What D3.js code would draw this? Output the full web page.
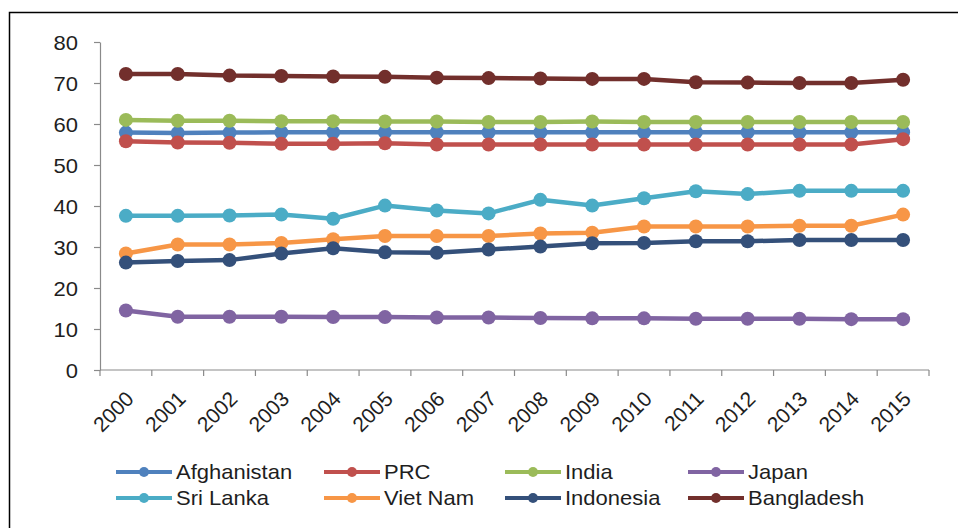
<!DOCTYPE html>
<html>
<head>
<meta charset="utf-8">
<script src="https://cdn.jsdelivr.net/npm/d3@7/dist/d3.min.js"></script>
<style>
  html, body { margin: 0; padding: 0; background: #fff; }
  svg { display: block; }
  text { font-family: "Liberation Sans", Arial, sans-serif; fill: #1e1e1e; }
</style>
</head>
<body>
<div id="chart"></div>
<script>
const years = ["2000","2001","2002","2003","2004","2005","2006","2007","2008","2009","2010","2011","2012","2013","2014","2015"];
const yTicks = [0, 10, 20, 30, 40, 50, 60, 70, 80];

const seriesNames = ["Afghanistan", "PRC", "India", "Japan", "Sri Lanka", "Viet Nam", "Indonesia", "Bangladesh"];
const seriesColors = ["#4F81BD", "#C0504D", "#9BBB59", "#8064A2", "#4BACC6", "#F79646", "#34507A", "#722F2C"];

const afghanistan = [57.9, 57.8, 57.9, 58.0, 58.0, 58.0, 58.0, 58.0, 58.0, 58.0, 58.0, 58.0, 58.0, 58.0, 58.0, 58.0];
const prc         = [55.8, 55.5, 55.4, 55.2, 55.2, 55.3, 55.0, 55.0, 55.0, 55.0, 55.0, 55.0, 55.0, 55.0, 55.0, 56.3];
const india       = [61.0, 60.8, 60.8, 60.7, 60.7, 60.6, 60.6, 60.5, 60.5, 60.6, 60.5, 60.5, 60.5, 60.5, 60.5, 60.5];
const japan       = [14.5, 13.0, 13.0, 13.0, 12.9, 12.9, 12.8, 12.8, 12.7, 12.6, 12.6, 12.5, 12.5, 12.5, 12.4, 12.4];
const sriLanka    = [37.6, 37.6, 37.7, 37.9, 36.9, 40.1, 38.9, 38.2, 41.5, 40.1, 41.9, 43.6, 42.9, 43.7, 43.7, 43.7];
const vietNam     = [28.4, 30.6, 30.6, 31.0, 31.9, 32.7, 32.7, 32.7, 33.3, 33.5, 35.0, 35.0, 35.0, 35.2, 35.2, 37.9];
const indonesia   = [26.2, 26.6, 26.8, 28.4, 29.7, 28.7, 28.6, 29.4, 30.1, 30.9, 31.0, 31.4, 31.4, 31.7, 31.7, 31.7];
const bangladesh  = [72.2, 72.2, 71.8, 71.7, 71.6, 71.5, 71.3, 71.2, 71.1, 71.0, 71.0, 70.2, 70.1, 70.0, 70.0, 70.8];

const seriesValues = [afghanistan, prc, india, japan, sriLanka, vietNam, indonesia, bangladesh];

const W = 958, H = 528;
const svg = d3.select("#chart").append("svg").attr("width", W).attr("height", H);

// outer frame (extends past right/bottom edges)
svg.append("rect").attr("x", 9.5).attr("y", 12.5).attr("width", 1000).attr("height", 600)
  .attr("fill", "none").attr("stroke", "#000").attr("stroke-width", 1.5);

const plotLeft = 100, plotRight = 929, plotTop = 42, plotBottom = 370;
const x = d3.scaleBand().domain(years).range([plotLeft, plotRight]).paddingInner(0).paddingOuter(0);
const y = d3.scaleLinear().domain([0, 80]).range([plotBottom, plotTop]);
const axisColor = "#8a8a8a";
const SX = 1.1;

// Y axis
const yAxis = svg.append("g").attr("transform", `translate(${plotLeft},0)`)
  .call(d3.axisLeft(y).tickValues(yTicks).tickSize(6).tickSizeOuter(0).tickFormat(d3.format("d")));
yAxis.select(".domain").attr("stroke", axisColor).attr("stroke-width", 1.2);
yAxis.selectAll(".tick line").attr("stroke", axisColor).attr("stroke-width", 1.2);
yAxis.selectAll(".tick text").remove();
yAxis.selectAll(".tick").append("text")
  .attr("transform", `translate(-22,0) scale(${SX},1)`)
  .attr("text-anchor", "end").attr("dy", "0.35em")
  .style("font-size", "20px").text(d => d);

// X axis
const xg = svg.append("g");
xg.append("line").attr("x1", plotLeft).attr("x2", plotRight).attr("y1", plotBottom).attr("y2", plotBottom)
  .attr("stroke", axisColor).attr("stroke-width", 1.2);
const edges = years.map(d => x(d)).concat([plotRight]);
xg.selectAll("line.tk").data(edges).join("line").attr("class", "tk")
  .attr("x1", d => d).attr("x2", d => d).attr("y1", plotBottom).attr("y2", plotBottom + 6)
  .attr("stroke", axisColor).attr("stroke-width", 1.2);
xg.selectAll("text.xl").data(years).join("text").attr("class", "xl")
  .attr("transform", d => `translate(${x(d) + x.bandwidth() / 2 + 4},${plotBottom + 25}) rotate(-45)`)
  .attr("text-anchor", "end").attr("dy", "0.35em")
  .style("font-size", "21px").text(d => d);

// Series
const line = d3.line().x((d, i) => x(years[i]) + x.bandwidth() / 2).y(d => y(d));
seriesNames.forEach((name, si) => {
  const g = svg.append("g");
  const vals = seriesValues[si];
  g.append("path").datum(vals).attr("d", line).attr("fill", "none")
    .attr("stroke", seriesColors[si]).attr("stroke-width", 4.5).attr("stroke-linejoin", "round");
  g.selectAll("circle").data(vals).join("circle")
    .attr("cx", (d, i) => x(years[i]) + x.bandwidth() / 2).attr("cy", d => y(d)).attr("r", 7)
    .attr("fill", seriesColors[si]);
});

// Legend
const legCols = [116, 324, 505, 688];
const legRows = [472, 498];
const legOrder = [[0, 1, 2, 3], [4, 5, 6, 7]];
legOrder.forEach((row, ri) => {
  row.forEach((si, ci) => {
    const lx = legCols[ci], ly = legRows[ri];
    const g = svg.append("g");
    g.append("line").attr("x1", lx).attr("x2", lx + 56).attr("y1", ly).attr("y2", ly)
      .attr("stroke", seriesColors[si]).attr("stroke-width", 4);
    g.append("circle").attr("cx", lx + 28).attr("cy", ly).attr("r", 5).attr("fill", seriesColors[si]);
    g.append("text").attr("transform", `translate(${lx + 60},${ly}) scale(${SX},1)`)
      .attr("dy", "0.35em").style("font-size", "20px").text(seriesNames[si]);
  });
});
</script>
</body>
</html>
